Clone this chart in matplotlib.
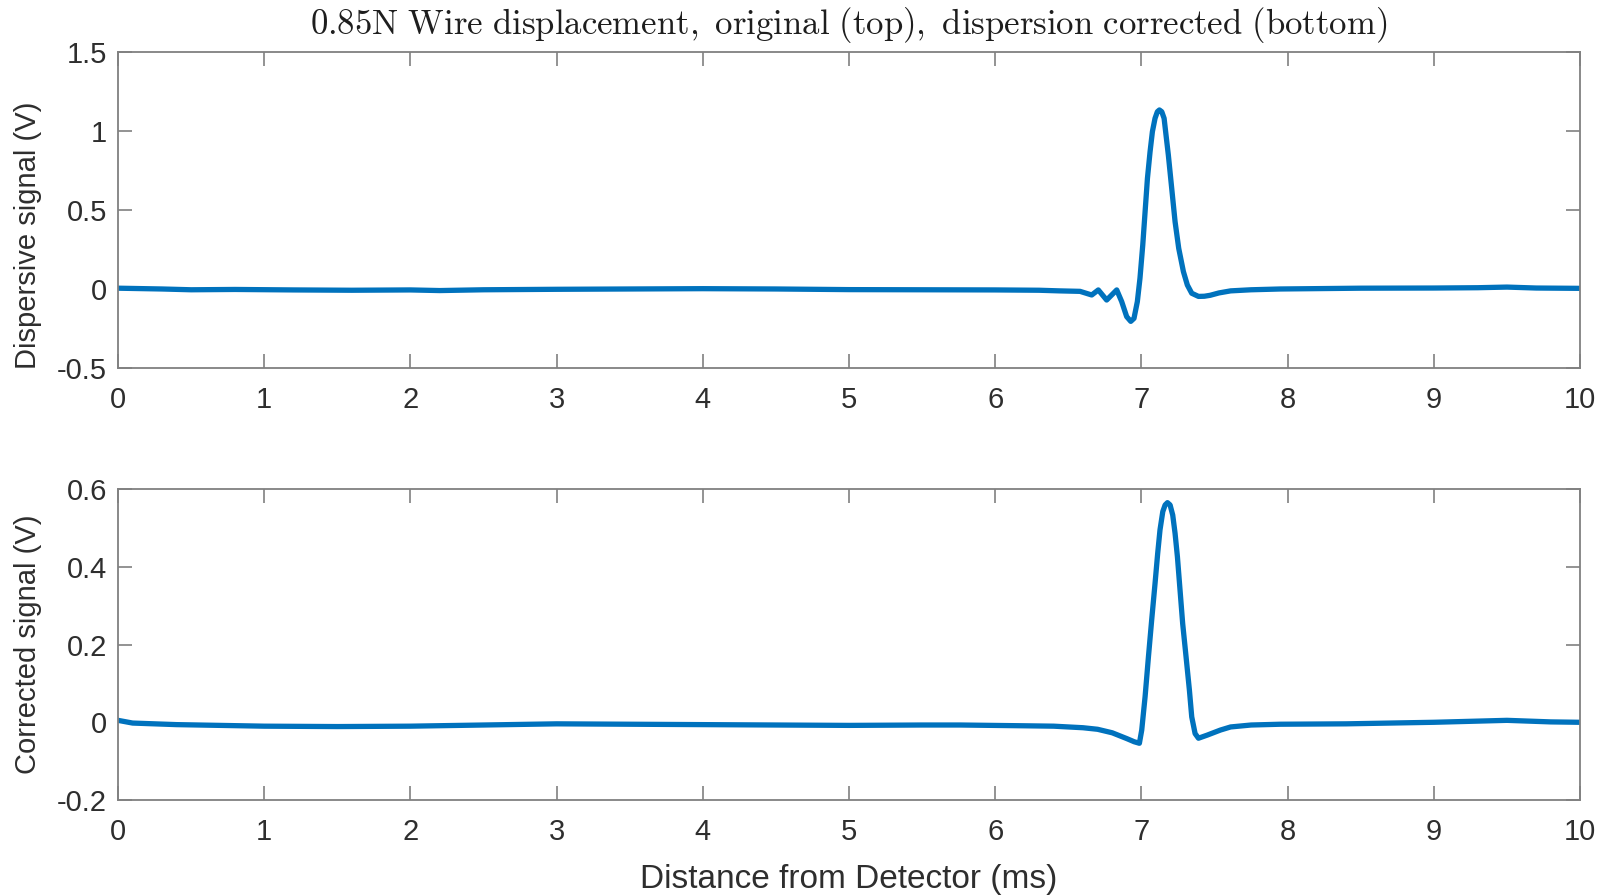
import matplotlib
matplotlib.use("Agg")
import matplotlib.pyplot as plt

plt.rcParams['font.family'] = ['Liberation Sans', 'DejaVu Sans']
plt.rcParams['mathtext.fontset'] = 'cm'

# Dispersive (original) wire signal: time in ms, amplitude in V
t_orig = [0.0, 0.3, 0.5, 0.8, 1.2, 1.6, 2.0, 2.2, 2.5, 3.0, 3.5, 4.0, 4.5,
          5.0, 5.5, 6.0, 6.3, 6.44, 6.58, 6.66, 6.705, 6.762, 6.831, 6.865,
          6.899, 6.927, 6.949, 6.972, 6.990, 7.009, 7.025, 7.041, 7.059,
          7.075, 7.093, 7.109, 7.123, 7.139, 7.155, 7.168, 7.184, 7.207,
          7.230, 7.255, 7.287, 7.314, 7.344, 7.39, 7.43, 7.47, 7.53, 7.61,
          7.75, 7.95, 8.5, 9.0, 9.3, 9.5, 9.7, 10.0]
v_orig = [0.005, 0.0, -0.005, -0.003, -0.006, -0.008, -0.006, -0.01, -0.005,
          -0.002, 0.0, 0.002, 0.0, -0.004, -0.005, -0.006, -0.008, -0.012,
          -0.015, -0.038, -0.006, -0.07, -0.006, -0.08, -0.175, -0.205,
          -0.186, -0.08, 0.068, 0.278, 0.489, 0.70, 0.869, 0.996, 1.08,
          1.122, 1.133, 1.122, 1.08, 0.975, 0.848, 0.637, 0.426, 0.257, 0.11,
          0.025, -0.027, -0.047, -0.046, -0.04, -0.025, -0.012, -0.005, 0.0,
          0.005, 0.006, 0.008, 0.012, 0.006, 0.004]

# Dispersion-corrected signal
t_corr = [0.0, 0.1, 0.4, 1.0, 1.5, 2.0, 2.5, 3.0, 3.5, 4.0, 4.5, 5.0, 5.5,
          5.76, 6.2, 6.4, 6.6, 6.7, 6.8, 6.9, 6.95, 6.986, 7.002, 7.025,
          7.048, 7.070, 7.093, 7.111, 7.127, 7.146, 7.162, 7.178, 7.196,
          7.214, 7.230, 7.246, 7.264, 7.282, 7.305, 7.328, 7.344, 7.367,
          7.39, 7.45, 7.54, 7.61, 7.75, 7.95, 8.4, 9.0, 9.5, 9.8, 10.0]
v_corr = [0.005, -0.002, -0.006, -0.01, -0.011, -0.01, -0.007, -0.004,
          -0.005, -0.006, -0.007, -0.008, -0.007, -0.007, -0.009, -0.01,
          -0.014, -0.018, -0.027, -0.042, -0.05, -0.054, -0.02, 0.066, 0.169,
          0.263, 0.357, 0.434, 0.495, 0.542, 0.559, 0.565, 0.559, 0.533,
          0.486, 0.426, 0.340, 0.254, 0.169, 0.083, 0.014, -0.029, -0.041,
          -0.033, -0.02, -0.012, -0.007, -0.005, -0.004, 0.0, 0.005, 0.001,
          0.0]

x_ticks = list(range(0, 11))
top_yticks = [-0.5, 0, 0.5, 1, 1.5]
top_ylabels = ['-0.5', '0', '0.5', '1', '1.5']
bot_yticks = [-0.2, 0, 0.2, 0.4, 0.6]
bot_ylabels = ['-0.2', '0', '0.2', '0.4', '0.6']

LINE = '#0072BD'
AXC = '#808080'
TXT = '#2e2e2e'

fig = plt.figure(figsize=(16.1, 8.96), dpi=100)
ax1 = fig.add_axes([0.0733, 0.5893, 0.9081, 0.3527])
ax2 = fig.add_axes([0.0733, 0.1071, 0.9081, 0.3471])


def style(ax, yticks, ylabels):
    ax.set_xlim(0, 10)
    ax.set_xticks(x_ticks)
    ax.set_xticklabels([str(v) for v in x_ticks])
    ax.set_yticks(yticks)
    ax.set_yticklabels(ylabels)
    ax.set_ylim(yticks[0], yticks[-1])
    for s in ax.spines.values():
        s.set_color(AXC)
        s.set_linewidth(1.3)
    ax.tick_params(axis='both', direction='in', top=True, right=True,
                   length=10, width=1.2, color=AXC, labelcolor=TXT,
                   labelsize=21)
    ax.tick_params(axis='x', pad=13)
    ax.tick_params(axis='y', pad=8)


ax1.plot(t_orig, v_orig, color=LINE, lw=3.8, solid_joinstyle='round')
style(ax1, top_yticks, top_ylabels)
ax1.set_ylabel('Dispersive signal (V)', fontsize=21, color=TXT)
ax1.yaxis.set_label_coords(-0.052, 0.42)
ax1.set_title(r'$\mathrm{0.85N\ Wire\ displacement,\ original\ (top),\ '
              r'dispersion\ corrected\ (bottom)}$',
              fontsize=25, color='#1e1e1e', pad=13)

ax2.plot(t_corr, v_corr, color=LINE, lw=3.8, solid_joinstyle='round')
style(ax2, bot_yticks, bot_ylabels)
ax2.set_ylabel('Corrected signal (V)', fontsize=21, color=TXT)
ax2.yaxis.set_label_coords(-0.052, 0.5)
ax2.set_xlabel('Distance from Detector (ms)', fontsize=24, color=TXT,
               labelpad=13)

fig.savefig('out.png', dpi=100)
